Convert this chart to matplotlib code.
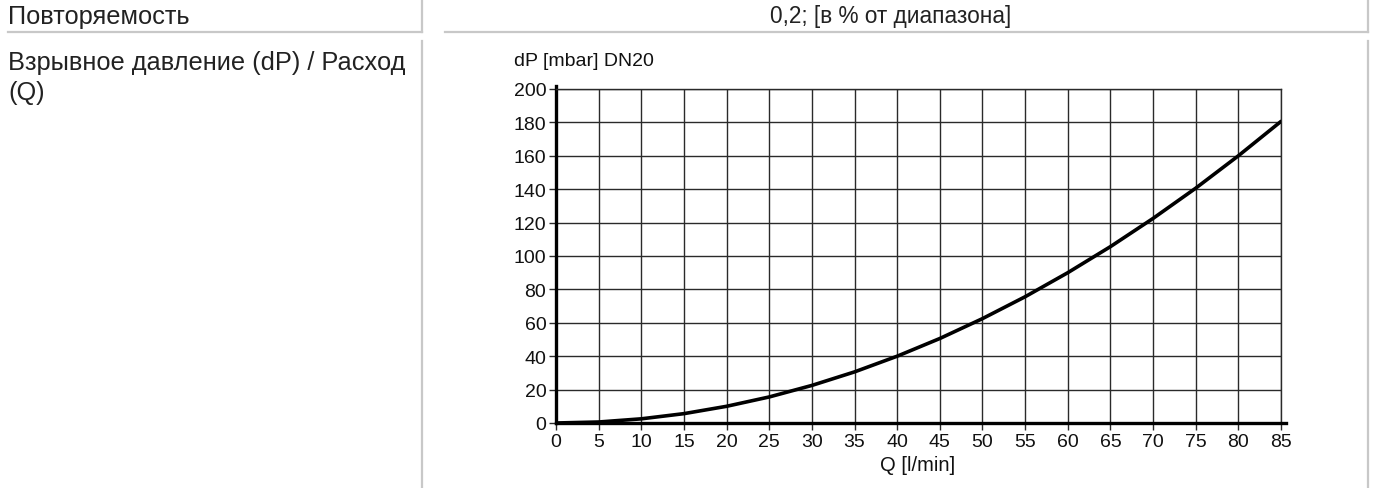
import matplotlib
matplotlib.use("Agg")
import matplotlib.pyplot as plt
from matplotlib.lines import Line2D

plt.rcParams['font.family'] = ['Liberation Sans', 'DejaVu Sans']

# Data
flow_q = [0, 5, 10, 15, 20, 25, 30, 35, 40, 45, 50, 55, 60, 65, 70, 75, 80, 85]
pressure_dp = [0, 0.6, 2.5, 5.6, 10, 15.6, 22.5, 30.6, 40, 50.6, 62.5, 75.6,
               90, 105.6, 122.5, 140.6, 160, 180.6]
x_ticks = list(range(0, 86, 5))
y_ticks = list(range(0, 201, 20))

row1_label = "Повторяемость"
row1_value = "0,2; [в % от диапазона]"
row2_label = "Взрывное давление (dP) / Расход\n(Q)"
chart_title = "dP [mbar] DN20"
x_label = "Q [l/min]"

W, H = 1375, 489
fig = plt.figure(figsize=(W / 100, H / 100), dpi=100)
fig.patch.set_facecolor('white')

def fx(px):
    return px / W

def fy(py):
    return 1 - py / H

grey = '#c8c8c8'
# table lines
for (x0, x1, y0, y1) in [
    (8, 422, 33, 33),
    (445, 1368, 33, 33),
    (422, 422, 0, 33),
    (1368, 1368, 0, 33),
    (422, 422, 42, 489),
    (1368, 1368, 42, 489),
]:
    fig.add_artist(Line2D([fx(x0), fx(x1)], [fy(y0), fy(y1)],
                          transform=fig.transFigure, color=grey, lw=1.6))

fig.text(fx(8), fy(17), row1_label, fontsize=18.3, va='center', ha='left', color='#222')
fig.text(fx(891), fy(17), row1_value, fontsize=16.3, va='center', ha='center', color='#222')
fig.text(fx(8), fy(51), row2_label, fontsize=18.3, va='top', ha='left', color='#222',
         linespacing=1.33)

# chart
ax_l, ax_r, ax_t, ax_b = 556, 1281, 90, 424
ax = fig.add_axes([fx(ax_l), fy(ax_b), fx(ax_r - ax_l), (ax_b - ax_t) / H])
ax.plot(flow_q, pressure_dp, color='black', lw=2.6, solid_capstyle='round', zorder=3)
ax.set_xlim(0, 85)
ax.set_ylim(0, 200)
ax.set_xticks(x_ticks)
ax.set_yticks(y_ticks)
ax.grid(True, color='#2a2a2a', lw=1.0)
ax.set_axisbelow(True)
for s in ['top', 'right']:
    ax.spines[s].set_color('#2a2a2a')
    ax.spines[s].set_linewidth(1.0)
for s in ['left', 'bottom']:
    ax.spines[s].set_color('black')
    ax.spines[s].set_linewidth(2.4)
ax.spines['bottom'].set_bounds(0, 85.6)
ax.spines['left'].set_bounds(0, 202)
ax.tick_params(axis='both', length=5, width=1, color='#2a2a2a', labelsize=14,
               labelcolor='#111', pad=2)
ax.set_facecolor('white')

fig.text(fx(514), fy(61), chart_title, fontsize=14, va='center', ha='left', color='#111')
fig.text(fx(918), fy(466), x_label, fontsize=14.5, va='center', ha='center', color='#111')

fig.savefig('out.png', dpi=100, facecolor='white')
